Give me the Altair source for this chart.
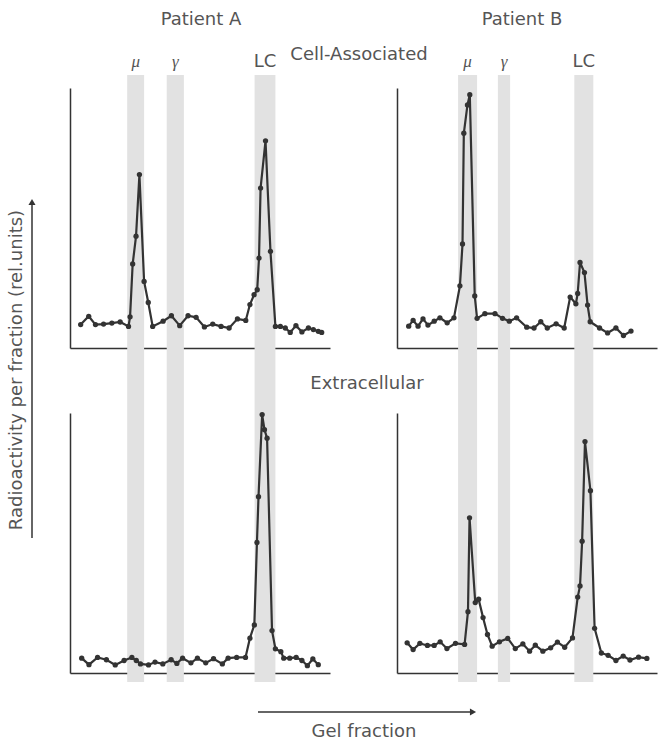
import altair as alt
import pandas as pd

# ---------------- data (x: relative gel position 0-100, y: radioactivity, rel. units 0-100)
a_cell_x = [4.1, 7.2, 9.8, 12.9, 16.1, 19.3, 22.5, 23.1, 24.1, 25.4, 26.7, 28.5, 30.1, 31.8,
            35.8, 39.0, 42.2, 45.4, 48.5, 51.7, 54.9, 58.1, 61.2, 64.4, 67.6, 69.2, 70.8, 72.0,
            72.7, 73.3, 75.2, 77.1, 79.0, 80.9, 82.8, 84.7, 86.9, 89.2, 91.7, 93.6, 95.5, 96.8]
a_cell_y = [9.0, 12.2, 9.0, 9.2, 9.6, 10.0, 8.3, 12.0, 32.3, 43.0, 66.7, 25.6, 17.5, 8.3,
            10.3, 12.4, 8.6, 12.4, 11.8, 8.1, 9.2, 8.3, 7.7, 11.2, 10.6, 16.7, 20.5, 22.4,
            34.6, 61.5, 79.7, 37.2, 8.3, 8.3, 7.7, 6.0, 8.6, 6.2, 7.7, 7.1, 6.4, 6.0]

b_cell_x = [4.5, 6.2, 8.1, 10.0, 11.9, 14.3, 16.5, 19.3, 21.9, 24.2, 25.2, 25.7, 27.1, 28.0,
            29.9, 30.8, 33.8, 37.7, 40.6, 43.2, 46.0, 49.9, 52.7, 55.3, 57.8, 61.2, 64.3, 66.6,
            68.8, 69.5, 70.4, 72.1, 73.3, 74.3, 77.9, 81.0, 84.2, 87.1, 90.0]
b_cell_y = [8.4, 10.6, 8.4, 11.2, 8.8, 10.3, 11.6, 9.7, 11.6, 23.9, 40.0, 82.6, 93.5, 97.4,
            20.0, 11.4, 13.2, 13.2, 11.4, 10.3, 11.6, 8.0, 7.7, 10.1, 7.7, 9.3, 7.7, 19.6,
            17.0, 21.0, 32.9, 29.0, 16.5, 10.1, 7.7, 5.8, 7.7, 4.8, 6.5]

a_extra_x = [4.5, 7.3, 10.6, 14.0, 17.4, 20.8, 23.8, 25.5, 27.1, 30.2, 32.7, 35.7, 38.9, 41.1,
             43.3, 46.5, 49.0, 52.2, 55.2, 58.6, 60.8, 64.1, 67.5, 69.2, 70.9, 71.9, 72.5, 73.9,
             74.8, 75.8, 77.7, 79.0, 81.1, 82.2, 84.5, 87.0, 89.2, 91.3, 93.4, 95.5]
a_extra_y = [5.7, 3.2, 6.0, 5.1, 3.1, 4.8, 6.0, 4.8, 3.5, 3.1, 4.2, 3.5, 5.1, 3.7,
             5.7, 3.9, 5.7, 3.9, 5.5, 3.5, 5.7, 6.0, 6.0, 13.4, 18.5, 50.2, 67.8, 99.4,
             93.6, 90.3, 16.3, 9.3, 8.2, 5.7, 5.7, 6.0, 4.8, 2.8, 5.4, 3.2]

b_extra_x = [3.9, 6.2, 8.8, 11.7, 14.3, 16.6, 19.2, 22.5, 26.0, 27.3, 27.9, 30.1, 31.4, 33.1,
             34.8, 36.6, 39.4, 42.6, 45.5, 48.4, 51.0, 53.2, 56.1, 59.1, 61.7, 64.5, 67.5, 69.5,
             70.4, 71.2, 72.3, 74.4, 76.0, 78.6, 81.2, 84.2, 87.0, 89.6, 92.9, 96.1]
b_extra_y = [11.6, 9.0, 11.4, 10.6, 10.6, 12.0, 9.4, 11.4, 11.0, 23.6, 59.7, 27.1, 28.4, 21.3,
             14.8, 10.3, 12.0, 13.3, 9.4, 11.2, 8.4, 10.7, 8.4, 9.7, 11.9, 9.9, 13.5, 29.2,
             33.5, 50.7, 89.0, 70.1, 17.2, 7.7, 6.8, 4.8, 6.5, 5.0, 6.1, 5.6]

band_names = ["μ", "γ", "LC"]
a_band_start = [22.0, 37.2, 71.0]
a_band_end = [28.5, 43.8, 79.0]
b_band_start = [23.5, 38.8, 68.2]
b_band_end = [30.8, 43.5, 75.5]

W, H = 260, 260
INK = "#333333"
TXT = "#555555"
SANS = "DejaVu Sans"
FS = 18

xs = alt.Scale(domain=[0, 100], nice=False, zero=False)
ys = alt.Scale(domain=[0, 100], nice=False, zero=False)
ax = alt.Axis(labels=False, ticks=False, grid=False, title="", domainColor=INK, domainWidth=1.5)
one = pd.DataFrame({"k": [0]})


def text_at(txt, x, y, size=FS, angle=0, font=SANS, style="normal"):
    return alt.Chart(one).mark_text(text=txt, font=font, fontSize=size, color=TXT,
                                    angle=angle, fontStyle=style, align="center",
                                    baseline="middle").encode(x=alt.value(x), y=alt.value(y))


def panel(x, y, bstart, bend, top, extra=None):
    df = pd.DataFrame({"x": x, "y": y})
    bd = pd.DataFrame({"band": band_names, "x0": bstart, "x1": bend,
                       "y0": [-25.0 if top else -3.5] * 3,
                       "y1": [105.0 if top else 100.0] * 3})
    bd["xc"] = (bd["x0"] + bd["x1"]) / 2
    bands = alt.Chart(bd).mark_rect(color="#e2e2e2").encode(
        x=alt.X("x0:Q", scale=xs, axis=ax), x2="x1",
        y=alt.Y("y0:Q", scale=ys, axis=ax), y2="y1")
    line = alt.Chart(df).mark_line(color=INK, strokeWidth=2.2).encode(
        x=alt.X("x:Q", scale=xs, axis=ax), y=alt.Y("y:Q", scale=ys, axis=ax))
    pts = alt.Chart(df).mark_circle(color=INK, size=28, opacity=1).encode(
        x=alt.X("x:Q", scale=xs, axis=ax), y=alt.Y("y:Q", scale=ys, axis=ax))
    layers = [bands, line, pts]
    if top:
        greek = alt.Chart(bd[bd["band"] != "LC"]).mark_text(
            font="Liberation Serif", fontStyle="italic", fontSize=17, color=TXT,
            baseline="middle").encode(x=alt.X("xc:Q", scale=xs, axis=ax),
                                      y=alt.value(-26), text="band:N")
        lc = alt.Chart(bd[bd["band"] == "LC"]).mark_text(
            font=SANS, fontSize=FS, color=TXT, baseline="middle").encode(
            x=alt.X("xc:Q", scale=xs, axis=ax), y=alt.value(-26), text="band:N")
        layers += [greek, lc]
    if extra:
        layers += extra
    return alt.layer(*layers).properties(width=W, height=H)


def anchor(x, y):
    return alt.Chart(one).mark_rule(color="white", strokeWidth=1).encode(
        x=alt.value(x), x2=alt.value(x), y=alt.value(y), y2=alt.value(y + 0.5))


annotations_a = [
    anchor(-69.5, -87.5),
    anchor(587.5, 652.0),
    text_at("Patient A", 131, -68),
    text_at("Cell-Associated", 289, -33),
    text_at("Extracellular", 297, 296),
    text_at("Radioactivity per fraction (rel.units)", -53, 282, angle=270),
    alt.Chart(one).mark_rule(color=INK, strokeWidth=1.5).encode(
        x=alt.value(-38), x2=alt.value(-38), y=alt.value(450), y2=alt.value(116)),
    alt.Chart(one).mark_point(shape="triangle-up", filled=True, color=INK, size=50,
                              opacity=1).encode(x=alt.value(-38), y=alt.value(114)),
    alt.Chart(one).mark_rule(color=INK, strokeWidth=1.5).encode(
        x=alt.value(188), x2=alt.value(400), y=alt.value(624), y2=alt.value(624)),
    alt.Chart(one).mark_point(shape="triangle-right", filled=True, color=INK, size=50,
                              opacity=1).encode(x=alt.value(403), y=alt.value(624)),
    text_at("Gel fraction", 294, 644),
]

annotations_b = [text_at("Patient B", 125, -68)]

a_top = panel(a_cell_x, a_cell_y, a_band_start, a_band_end, True, annotations_a)
b_top = panel(b_cell_x, b_cell_y, b_band_start, b_band_end, True, annotations_b)
a_bot = panel(a_extra_x, a_extra_y, a_band_start, a_band_end, False)
b_bot = panel(b_extra_x, b_extra_y, b_band_start, b_band_end, False)

chart = alt.concat(a_top, b_top, a_bot, b_bot, columns=2,
                   spacing={"row": 65, "column": 67}, bounds="flush").properties(
    padding=0, background="white"
).configure_view(strokeWidth=0)

chart.save("out.html", embed_options={"renderer": "svg", "actions": False})
